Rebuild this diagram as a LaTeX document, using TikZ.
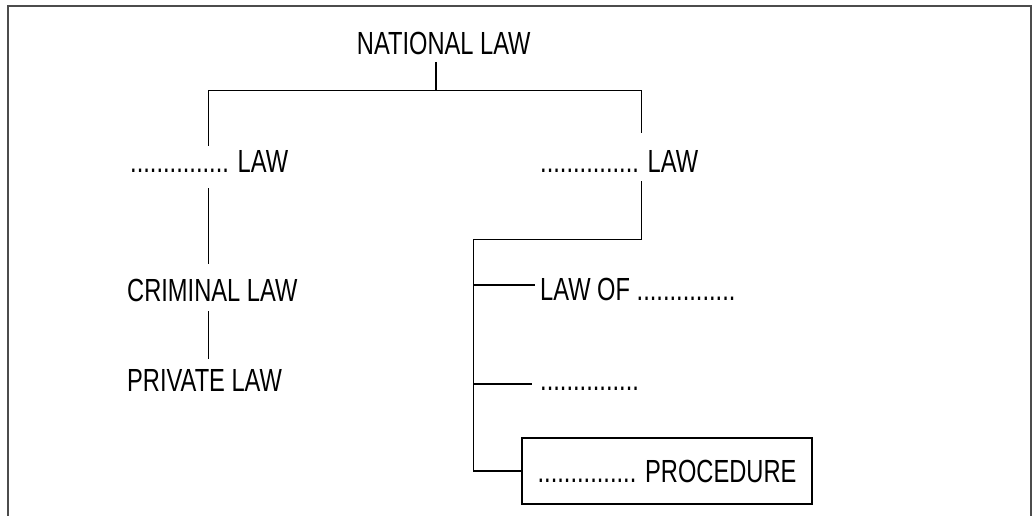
\documentclass[tikz,border=0pt]{standalone}
\usepackage{fontspec}
\setmainfont[FakeStretch=0.74]{Liberation Sans}
\tikzset{
	x=1pt, y=-1pt, % coordinates are read as pixels, y grows downwards
	every node/.style={inner sep=0pt, font=\fontsize{32}{38}\selectfont},
	item/.style={anchor=base west}, % a label sitting on its baseline
	link/.style={draw, line width=1.1pt}, % the tree lines
	frame/.style={draw=black!70, line width=1.6pt}, % open frame round the page
	boxed/.style={draw, line width=1.1pt, minimum width=290pt, minimum height=66pt},
}
\begin{document}
\begin{tikzpicture}
	\useasboundingbox (0,0) rectangle (1034,516);
	\draw[frame] (8,516) -- (8,6) -- (1031,6) -- (1031,516);

	\node[item] (nat) at (356.7,54.3) {NATIONAL LAW};
	\node[item] (publ) at (130,172.3) {............... LAW};
	\node[item] (other) at (540,172.3) {............... LAW};
	\node[item] (crim) at (127,301.7) {CRIMINAL LAW};
	\node[item] (priv) at (127,391) {PRIVATE LAW};
	\node[item] (lawof) at (540,300) {LAW OF ...............};
	\node[item] (blank) at (540,390) {...............};
	\node[boxed] (proc) at (667,471) {............... PROCEDURE};

	\coordinate (top) at (436,90.7);
	\coordinate (lt) at (208.3,90.7);
	\coordinate (rt) at (641.5,90.7);
	\coordinate (fork) at (473.3,239.3);
	\coordinate (lawofin) at ([yshift=15pt]lawof.base west);
	\coordinate (blankin) at ([yshift=6pt]blank.base west);

	\draw[link, shorten <=7pt] (nat.south -| top) -- (top);
	\draw[link] (lt) -- (rt);
	\draw[link, shorten >=4pt] (lt) -- (lt |- publ.north);
	\draw[link, shorten >=17pt] (rt) -- (rt |- other.north);
	\draw[link, shorten <=16pt, shorten >=15pt] (lt |- publ.south) -- (lt |- crim.north);
	\draw[link, shorten <=9pt, shorten >=10pt] (lt |- crim.south) -- (lt |- priv.north);
	\draw[link, shorten <=9pt] (rt |- other.south) |- (fork) |- (proc.west);
	\draw[link, shorten >=5pt] (fork |- lawofin) -- (lawofin);
	\draw[link, shorten >=8pt] (fork |- blankin) -- (blankin);
\end{tikzpicture}
\end{document}
